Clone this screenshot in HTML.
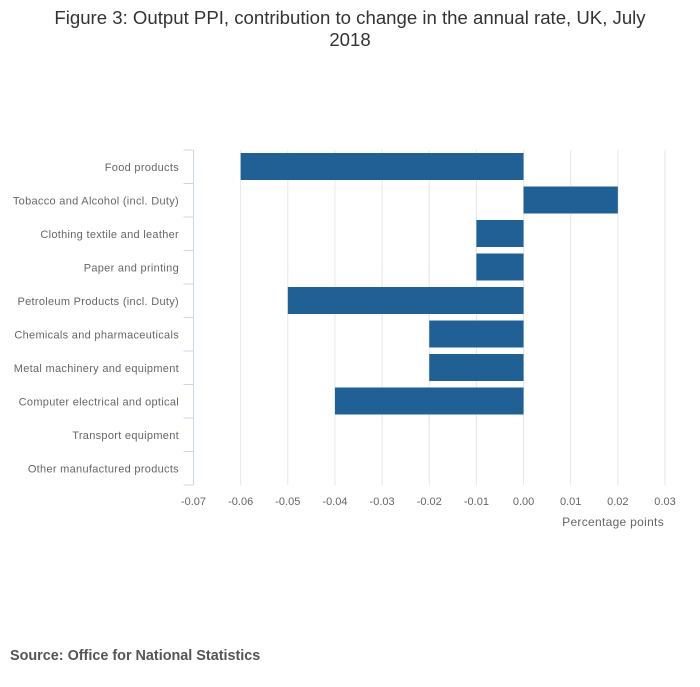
<!DOCTYPE html>
<html><head><meta charset="utf-8"><style>
body{margin:0;background:#fff;width:700px;height:682px;overflow:hidden;font-family:"Liberation Sans",sans-serif}
</style></head><body>
<svg width="700" height="682" xmlns="http://www.w3.org/2000/svg">
<text x="350" y="24" text-anchor="middle" font-size="18.6" fill="#333">Figure 3: Output PPI, contribution to change in the annual rate, UK, July</text>
<text x="350" y="46" text-anchor="middle" font-size="18.6" fill="#333">2018</text>
<g id="grid"></g>
<g id="bars"></g>
<g id="yaxis"></g>
<g id="xaxis"></g>
<text x="664" y="526" text-anchor="end" font-size="12" letter-spacing="0.3" fill="#666">Percentage points</text>
<text x="10" y="660" font-size="14.4" font-weight="bold" fill="#555">Source: Office for National Statistics</text>
</svg>
<script>
const categories=["Food products","Tobacco and Alcohol (incl. Duty)","Clothing textile and leather","Paper and printing","Petroleum Products (incl. Duty)","Chemicals and pharmaceuticals","Metal machinery and equipment","Computer electrical and optical","Transport equipment","Other manufactured products"];
const values=[-0.06,0.02,-0.01,-0.01,-0.05,-0.02,-0.02,-0.04,0,0];
const xTicks=[-0.07,-0.06,-0.05,-0.04,-0.03,-0.02,-0.01,0,0.01,0.02,0.03];
const xTickLabels=["-0.07","-0.06","-0.05","-0.04","-0.03","-0.02","-0.01","0.00","0.01","0.02","0.03"];
const NS="http://www.w3.org/2000/svg";
const L=193.5,R=665,T=150,B=485,xmin=-0.07,xmax=0.03;
const x=v=>L+(v-xmin)/(xmax-xmin)*(R-L);
const band=(B-T)/categories.length;
function mk(p,t,a){const e=document.createElementNS(NS,t);for(const k in a)e.setAttribute(k,a[k]);p.appendChild(e);return e;}
const grid=document.getElementById('grid'),bars=document.getElementById('bars'),ya=document.getElementById('yaxis'),xa=document.getElementById('xaxis');
xTicks.forEach((t,i)=>{
 if(i>0){const g=mk(grid,'line',{x1:x(t),x2:x(t),y1:T,y2:B,stroke:'#e6e6e6','stroke-width':1});
 
 }
 const lb=mk(xa,'text',{x:x(t),y:505,'text-anchor':'middle','font-size':11,fill:'#666'});
 lb.textContent=xTickLabels[i];
 
 
});
const ax=mk(ya,'line',{x1:L,x2:L,y1:T,y2:B,stroke:'#ccd6eb','stroke-width':1});


for(let i=0;i<=categories.length;i++){
 const y=T+i*band;
 const tk=mk(ya,'line',{x1:L-10,x2:L,y1:y,y2:y,stroke:'#ccd6eb','stroke-width':1});
 
 
}
categories.forEach((c,i)=>{
 const yc=T+(i+0.5)*band;
 const lb=mk(ya,'text',{x:179,y:yc+4,'text-anchor':'end','font-size':11,'letter-spacing':0.3,fill:'#666'});
 lb.textContent=c;
 
 
 const v=values[i];
 if(v!==0){
  const x1=Math.min(x(0),x(v)),w=Math.abs(x(v)-x(0));
  const r=mk(bars,'rect',{x:x1,y:T+i*band+3,width:w,height:band-6.5,fill:'#206095'});
  
  
 }
});
</script>
</body></html>
